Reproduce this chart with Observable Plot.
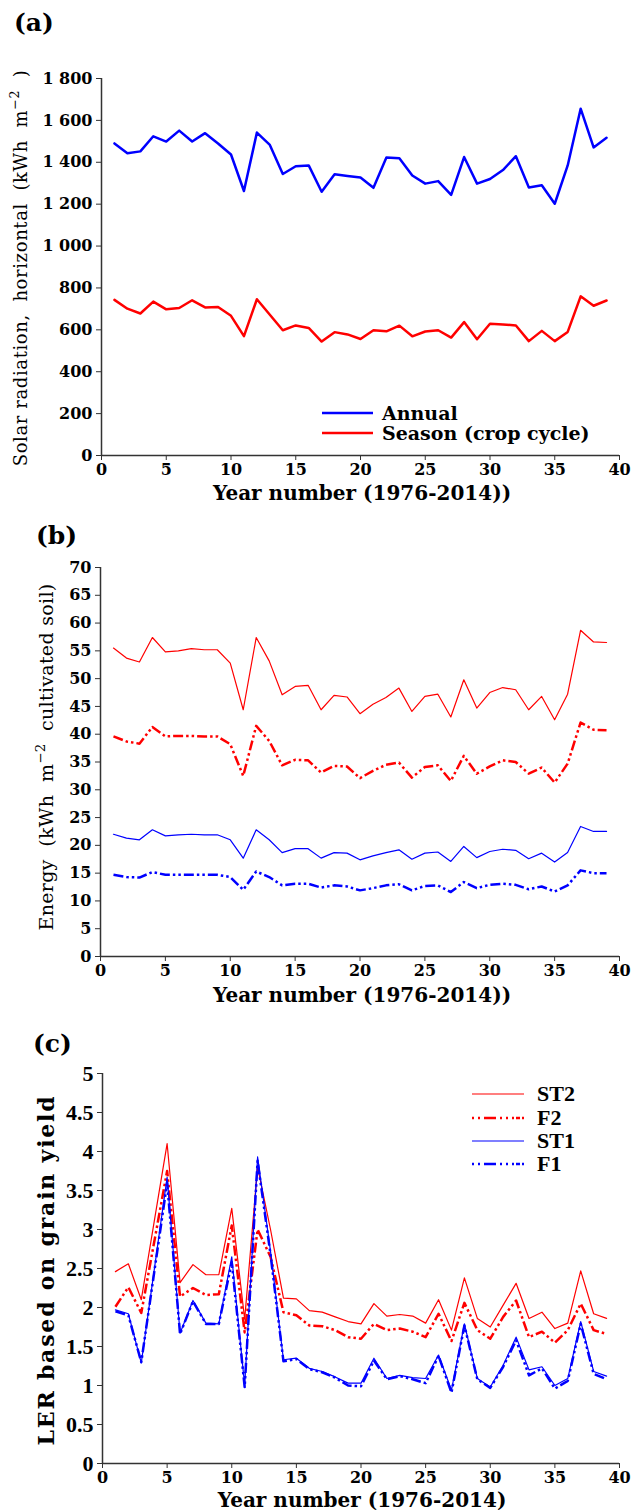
<!DOCTYPE html>
<html><head><meta charset="utf-8">
<script src="https://cdn.jsdelivr.net/npm/d3@7"></script>
<script src="https://cdn.jsdelivr.net/npm/@observablehq/plot@0.6"></script>
<style>
body{margin:0;background:#fff;width:632px;height:1510px;position:relative;overflow:hidden}
.abs{position:absolute}
.title{font-family:"DejaVu Serif";font-weight:bold;font-size:25px;line-height:1;transform:translate(0,-50%)}
.xlab{font-family:"DejaVu Serif";font-weight:bold;font-size:20px;white-space:nowrap;line-height:1;transform:translate(-50%,-50%)}
.ylab{white-space:nowrap;line-height:1;transform:translate(-50%,-50%) rotate(-90deg)}
sup{font-size:0.7em;vertical-align:0.6em;line-height:0}
.plotbox{position:absolute;left:0}
</style></head><body>
<script>
// ---------- data ----------
const years = [1,2,3,4,5,6,7,8,9,10,11,12,13,14,15,16,17,18,19,20,21,22,23,24,25,26,27,28,29,30,31,32,33,34,35,36,37,38,39];

const annualRad = [1490,1443,1452,1524,1499,1551,1499,1539,1490,1437,
  1263,1542,1483,1344,1381,1385,1259,1343,1335,1327,
  1278,1423,1419,1337,1298,1310,1244,1425,1298,1320,
  1363,1429,1280,1290,1202,1385,1656,1471,1517];
const seasonRad = [743,701,678,735,698,704,741,707,709,667,
  570,746,672,598,621,609,544,589,578,556,
  598,593,620,569,592,598,563,637,555,629,
  626,621,546,595,546,590,760,715,740];

const energyST2 = [55.5,53.7,53.0,57.4,54.8,55.0,55.4,55.2,55.2,52.8,
  44.4,57.4,53.2,47.1,48.6,48.8,44.4,47.0,46.7,43.7,
  45.4,46.6,48.3,44.1,46.8,47.2,43.1,49.8,44.7,47.5,
  48.4,48.0,44.4,46.8,42.6,47.2,58.7,56.6,56.5];
const energyF2 = [39.6,38.7,38.3,41.3,39.6,39.7,39.7,39.6,39.6,38.2,
  32.5,41.5,38.8,34.4,35.4,35.3,33.1,34.3,34.2,32.1,
  33.4,34.5,34.9,32.2,34.1,34.4,31.6,36.1,32.9,34.2,
  35.3,35.0,32.9,34.0,31.3,34.7,42.1,40.8,40.7];
const energyST1 = [22.0,21.3,21.0,22.8,21.7,21.9,22.0,21.9,21.9,21.0,
  17.7,22.8,21.0,18.7,19.4,19.4,17.7,18.7,18.6,17.4,
  18.1,18.7,19.2,17.5,18.6,18.8,17.1,19.8,17.8,18.9,
  19.3,19.1,17.6,18.6,17.0,18.7,23.4,22.5,22.5];
const energyF1 = [14.7,14.3,14.2,15.2,14.7,14.7,14.7,14.7,14.7,14.3,
  12.0,15.3,14.3,12.8,13.1,13.1,12.4,12.8,12.6,11.9,
  12.3,12.8,13.0,11.9,12.7,12.8,11.6,13.4,12.3,12.9,
  13.1,12.9,12.1,12.6,11.7,12.8,15.5,15.0,15.0];

const lerST2 = [2.46,2.56,2.10,3.10,4.10,2.32,2.55,2.42,2.42,3.27,
  1.85,3.80,3.00,2.12,2.11,1.96,1.94,1.88,1.82,1.79,
  2.05,1.89,1.91,1.89,1.80,2.10,1.71,2.38,1.86,1.75,
  2.03,2.31,1.86,1.94,1.73,1.80,2.47,1.92,1.86];
const lerF2 = [2.01,2.26,1.93,2.84,3.75,2.14,2.25,2.16,2.17,3.05,
  1.68,3.00,2.65,1.94,1.90,1.77,1.76,1.71,1.62,1.60,
  1.79,1.71,1.73,1.69,1.62,1.92,1.57,2.06,1.71,1.60,
  1.88,2.09,1.62,1.69,1.55,1.71,2.05,1.71,1.66];
const lerST1 = [1.97,1.92,1.29,2.48,3.67,1.67,2.09,1.80,1.79,2.65,
  1.00,3.93,2.72,1.33,1.35,1.22,1.18,1.11,1.03,1.03,
  1.35,1.09,1.13,1.10,1.09,1.39,0.94,1.79,1.09,0.98,
  1.26,1.62,1.20,1.24,1.00,1.09,1.82,1.18,1.12];
const lerF1 = [1.95,1.90,1.30,2.45,3.60,1.66,2.08,1.79,1.79,2.58,
  0.98,3.88,2.68,1.31,1.34,1.21,1.17,1.10,1.00,0.99,
  1.32,1.08,1.12,1.08,1.03,1.38,0.91,1.77,1.08,0.97,
  1.24,1.58,1.13,1.22,0.96,1.06,1.79,1.15,1.08];

const xTicks = [0,5,10,15,20,25,30,35,40];
const yTicksA = [0,200,400,600,800,1000,1200,1400,1600,1800];
const yTicksB = [0,5,10,15,20,25,30,35,40,45,50,55,60,65,70];
const yTicksC = [0,0.5,1,1.5,2,2.5,3,3.5,4,4.5,5];

const legendA = ["Annual","Season (crop cycle)"];
const legendC = ["ST2","F2","ST1","F1"];

// ---------- helpers ----------
const RED = "#ff0000", BLUE = "#0000ff";
const DASH = "10,3,2.5,3,2.5,3";
const spaceFmt = d3.formatLocale({decimal:".", thousands:" ", grouping:[3], currency:["",""]}).format(",");
const tbl = vals => years.map((yr,i)=>({year:yr, v:vals[i]}));

function el(html, cls, style){
  const d = document.createElement("div");
  d.className = "abs " + cls;
  d.innerHTML = html;
  Object.assign(d.style, style);
  document.body.appendChild(d);
  return d;
}

function panel({top, height, mt, mb, ml, mr, yDomain, yTicks, yFmt, yFontFamily, yFontSize, series}){
  const marks = [
    Plot.axisX({ticks:xTicks, tickSize:5, tickPadding:3, fontFamily:"DejaVu Serif", fontWeight:"bold", fontSize:16, label:null, stroke:"#333", fill:"#000"}),
    Plot.axisY({ticks:yTicks, tickFormat:yFmt, tickSize:5, tickPadding:4, fontFamily:yFontFamily, fontWeight:"bold", fontSize:yFontSize, label:null, stroke:"#333", fill:"#000"}),
    Plot.ruleX([0], {stroke:"#333", strokeWidth:1.5}),
    Plot.ruleY([yDomain[0]], {stroke:"#333", strokeWidth:1.5}),
    ...series.map(s => Plot.line(tbl(s.values), {x:"year", y:"v", stroke:s.color, strokeWidth:s.width,
        strokeDasharray:s.dash, strokeLinecap: s.dash ? "butt" : "round", strokeLinejoin:"round"}))
  ];
  const chart = Plot.plot({
    width:632, height, marginTop:mt, marginBottom:mb, marginLeft:ml, marginRight:mr,
    x:{domain:[0,40]}, y:{domain:yDomain},
    style:{background:"#fff", overflow:"visible"},
    marks
  });
  const box = document.createElement("div");
  box.className = "plotbox";
  box.style.top = top + "px";
  box.appendChild(chart);
  document.body.appendChild(box);
}

// ---------- panel (a) ----------
panel({top:60, height:420, mt:18, mb:25, ml:101, mr:13, yDomain:[0,1800], yTicks:yTicksA,
  yFmt: d => spaceFmt(d), yFontFamily:"DejaVu Serif", yFontSize:16,
  series:[{values:annualRad, color:BLUE, width:2.5},{values:seasonRad, color:RED, width:2.5}]});
el("(a)", "title", {left:"14px", top:"22px"});
el("Year number (1976-2014))", "xlab", {left:"362px", top:"493px"});
el("Solar radiation,&nbsp; horizontal&nbsp; (kWh&nbsp; m<sup>−2</sup>&nbsp; )", "ylab",
  {left:"21px", top:"268px", fontFamily:"DejaVu Serif", fontSize:"18px", letterSpacing:"0.6px"});

// ---------- panel (b) ----------
panel({top:555, height:430, mt:12, mb:29, ml:100, mr:13, yDomain:[0,70], yTicks:yTicksB,
  yFmt: d => String(d), yFontFamily:"DejaVu Serif", yFontSize:16,
  series:[{values:energyST2, color:RED, width:1.2},{values:energyF2, color:RED, width:2.5, dash:DASH},
          {values:energyST1, color:BLUE, width:1.2},{values:energyF1, color:BLUE, width:2.5, dash:DASH}]});
el("(b)", "title", {left:"36px", top:"535px"});
el("Year number (1976-2014))", "xlab", {left:"362px", top:"995px"});
el("Energy&nbsp; (kWh&nbsp; m<sup>−2</sup>&nbsp; cultivated soil)", "ylab",
  {left:"46px", top:"757px", fontFamily:"DejaVu Serif", fontSize:"19px", letterSpacing:"0.3px"});

// ---------- panel (c) ----------
panel({top:1060, height:430, mt:13, mb:27, ml:102, mr:13, yDomain:[0,5], yTicks:yTicksC,
  yFmt: d => String(d), yFontFamily:"Liberation Serif", yFontSize:22,
  series:[{values:lerST2, color:RED, width:1.2},{values:lerF2, color:RED, width:2.5, dash:DASH},
          {values:lerST1, color:BLUE, width:1.2},{values:lerF1, color:BLUE, width:2.5, dash:DASH}]});
el("(c)", "title", {left:"33px", top:"1043px"});
el("Year number (1976-2014)", "xlab", {left:"362px", top:"1500px"});
el("LER based on grain yield", "ylab",
  {left:"46px", top:"1270px", fontFamily:"DejaVu Serif", fontWeight:"bold", fontSize:"22px", letterSpacing:"1.8px"});

// ---------- legends ----------
function legend(items, styles, x0, ys, textX, font){
  const svgNS = "http://www.w3.org/2000/svg";
  items.forEach((name,i)=>{
    const s = styles[i];
    const svg = document.createElementNS(svgNS,"svg");
    svg.setAttribute("width", 60); svg.setAttribute("height", 10);
    svg.style.position = "absolute"; svg.style.left = x0 + "px"; svg.style.top = (ys[i]-5) + "px";
    const ln = document.createElementNS(svgNS,"line");
    ln.setAttribute("x1",0); ln.setAttribute("x2",s.len); ln.setAttribute("y1",5); ln.setAttribute("y2",5);
    ln.setAttribute("stroke", s.color); ln.setAttribute("stroke-width", s.width);
    if (s.dash) ln.setAttribute("stroke-dasharray", s.dash);
    svg.appendChild(ln);
    document.body.appendChild(svg);
    el(name, "", {left:textX+"px", top:ys[i]+"px", transform:"translate(0,-50%)", whiteSpace:"nowrap",
      lineHeight:"1", fontWeight:"bold", ...font});
  });
}
legend(legendA, [{color:BLUE,width:2.5,len:51},{color:RED,width:2.5,len:51}], 322, [413,433], 382,
  {fontFamily:"DejaVu Serif", fontSize:"19px"});
legend(legendC, [{color:RED,width:1.2,len:52},{color:RED,width:2.5,len:52,dash:"2,4,2,4,12,4,2,4,2,4,2"},
                 {color:BLUE,width:1.2,len:52},{color:BLUE,width:2.5,len:52,dash:"2,4,2,4,12,4,2,4,2,4,2"}],
  472, [1094,1118,1141,1164], 537, {fontFamily:"Liberation Serif", fontSize:"22px"});
</script>
</body></html>
